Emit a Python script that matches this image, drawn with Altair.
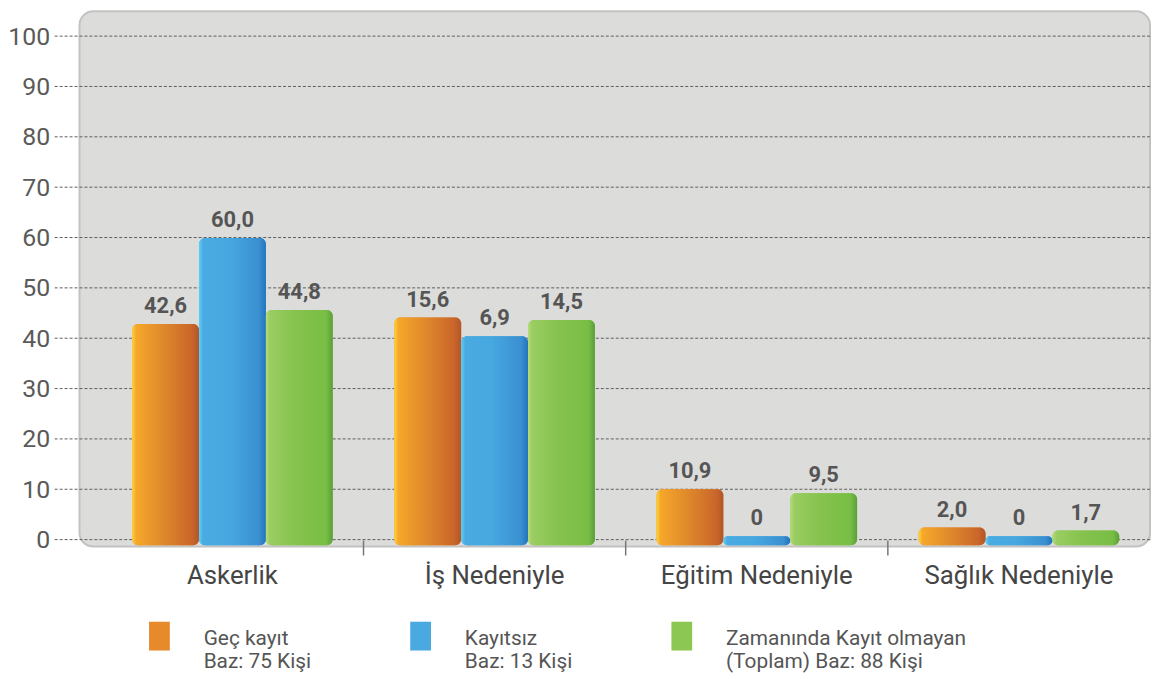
import altair as alt
import pandas as pd

categories = ["Askerlik", "İş Nedeniyle", "Eğitim Nedeniyle", "Sağlık Nedeniyle"]
series = ["Geç  kayıt", "Kayıtsız", "Zamanında Kayıt olmayan"]
series_base = ["Baz: 75 Kişi", "Baz: 13 Kişi", "(Toplam) Baz: 88 Kişi"]

# bar heights as drawn in the picture
gec_heights = [42.8, 44.1, 10.0, 2.4]
kayitsiz_heights = [59.9, 40.4, 0.65, 0.65]
zamaninda_heights = [45.6, 43.6, 9.2, 1.8]
# value labels printed above the bars
gec_labels = ["42,6", "15,6", "10,9", "2,0"]
kayitsiz_labels = ["60,0", "6,9", "0", "0"]
zamaninda_labels = ["44,8", "14,5", "9,5", "1,7"]

y_ticks = [0, 10, 20, 30, 40, 50, 60, 70, 80, 90, 100]

series_colors = ["#e68a2b", "#49a9e0", "#8cc653"]
series_gradients = [
    ["#ffd43a", "#f5a82a", "#e08a2b", "#c9652a", "#b0562a"],
    ["#5fd0f5", "#4aabe2", "#47a8e0", "#3a8fd0", "#1f74bd"],
    ["#b7dc7a", "#9acd62", "#86c24e", "#78be44", "#5a9f3a"],
]

heights = [gec_heights, kayitsiz_heights, zamaninda_heights]
labels = [gec_labels, kayitsiz_labels, zamaninda_labels]
rows = []
for i, c in enumerate(categories):
    for j, s in enumerate(series):
        rows.append({"cat": c, "series": s, "value": heights[j][i], "label": labels[j][i]})
df = pd.DataFrame(rows)

W, H = 1056, 507
FONT = "Roboto"
TEXT = "#555555"

x_scale = alt.Scale(domain=categories, paddingInner=0, paddingOuter=0)
x_axis = alt.Axis(
    title=None, domain=False, ticks=False, grid=False, labelAngle=0,
    labelAlign="center", labelLimit=400,
    labelFontSize=26, labelColor="#454545", labelPadding=23, labelFont=FONT,
)
x_enc = alt.X("cat:N", sort=categories, scale=x_scale, axis=x_axis)
x_noaxis = alt.X("cat:N", sort=categories, scale=x_scale, axis=None)
xoff_enc = alt.XOffset(
    "series:N", sort=series,
    scale=alt.Scale(domain=series, paddingInner=0, paddingOuter=0.46),
)
y_enc = alt.Y(
    "value:Q",
    scale=alt.Scale(domain=[0, 100], nice=False, zero=True),
    axis=alt.Axis(
        title=None, values=y_ticks, domain=False, ticks=False, grid=False,
        labelFontSize=25, labelColor="#5a5a5a", labelPadding=52, labelFont=FONT,
    ),
)

label_expr_parts = " : ".join(
    [f"datum.label == '{s}' ? ['{s}', '{b}']" for s, b in zip(series, series_base)]
) + " : [datum.label]"

panel = alt.Chart(alt.Data(values=[{}])).mark_rect(
    fill="#dcdcdb", stroke="#c2c2c2", strokeWidth=2, cornerRadius=14
).encode(
    x=alt.value(-22), x2=alt.value(W), y=alt.value(-25), y2=alt.value(H + 7)
)

grid = alt.Chart(alt.Data(values=[{"t": t} for t in y_ticks])).mark_rule(
    color="#5e5e5e", strokeWidth=1, strokeDash=[3, 2]
).encode(
    y=alt.Y("t:Q", scale=alt.Scale(domain=[0, 100], nice=False)),
    x=alt.value(-47), x2=alt.value(W + 2),
)

seps = alt.Chart(alt.Data(values=[{"cat": c} for c in categories[1:]])).mark_rule(
    color="#777777", strokeWidth=1.5
).encode(
    x=alt.X("cat:N", bandPosition=0, sort=categories, scale=x_scale, axis=None),
    y=alt.value(H + 1), y2=alt.value(H + 16),
)

base_bars = alt.Chart(df).mark_bar(cornerRadius=6).encode(
    x=x_enc, xOffset=xoff_enc, y=y_enc, y2=alt.datum(-1.1),
    color=alt.Color(
        "series:N", sort=series,
        scale=alt.Scale(domain=series, range=series_colors),
        legend=alt.Legend(
            title=None, orient="none", legendX=44, legendY=582,
            direction="horizontal", columns=3, gridAlign="none",
            columnPadding=95, symbolType="M-0.72,-0.47L0.72,-0.47L0.72,1.53L-0.72,1.53Z",
            symbolSize=841, symbolStrokeWidth=0, labelOffset=30,
            labelFontSize=21, labelColor=TEXT, labelFont=FONT,
            labelBaseline="top", labelLimit=400,
            labelExpr=label_expr_parts, padding=0,
        ),
    ),
)

grad_layers = []
for s, stops in zip(series, series_gradients):
    offsets = [0, 0.06, 0.45, 0.9, 1]
    grad = alt.LinearGradient(
        gradient="linear", x1=0, x2=1, y1=0, y2=0,
        stops=[alt.GradientStop(offset=o, color=c) for o, c in zip(offsets, stops)],
    )
    grad_layers.append(
        alt.Chart(df).transform_filter(alt.datum.series == s).mark_bar(
            cornerRadius=6, color=grad
        ).encode(x=x_noaxis, xOffset=xoff_enc, y=y_enc, y2=alt.datum(-1.1))
    )

texts = alt.Chart(df).mark_text(
    baseline="alphabetic", dy=-11, fontSize=22, fontWeight="bold", color=TEXT, font=FONT
).encode(x=x_noaxis, xOffset=xoff_enc, y=y_enc, text="label:N")

chart = alt.layer(panel, grid, seps, base_bars, *grad_layers, texts).resolve_axis(
    x="independent"
).properties(
    width=W, height=H,
    autosize=alt.AutoSizeParams(type="none"),
    padding={"left": 94, "top": 26, "right": 2, "bottom": 133},
).configure_view(stroke=None).configure(font=FONT, background="white")

chart.save("out.html", embed_options={"renderer": "svg", "actions": False})
